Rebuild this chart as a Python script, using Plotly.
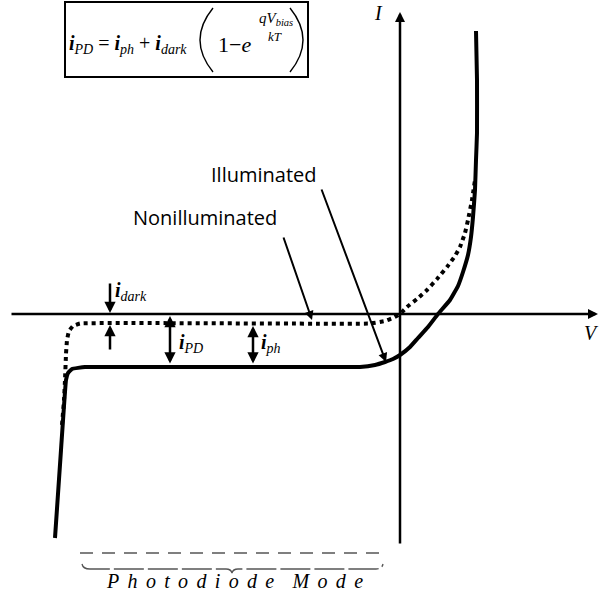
import plotly.graph_objects as go

# Photodiode I-V characteristic, in diagram units (origin at the axis crossing)
# Illuminated diode current (solid curve)
v_illum = [-345, -339, -334, -332, -328, -315, -40, -25, -15, -7, 0, 10, 18, 28, 38,
           50, 58, 63, 68, 71, 73, 75, 76, 77, 77, 76]
i_illum = [-224, -136, -66, -59, -55, -53, -53, -51, -48, -45, -41, -33, -24, -13, 0,
           14, 28, 42, 59, 77, 97, 124, 154, 181, 234, 283]

# Dark (nonilluminated) diode current (dotted curve)
v_dark = [-338, -336, -335, -334, -333, -331, -327, -320, -30, -15, -7, 0, 7, 17, 27,
          37, 47, 55, 60, 65, 68, 72, 75]
i_dark = [-111, -86, -66, -40, -26, -17, -12, -9.5, -9.5, -7, -4, 0, 7, 15, 24,
          35, 47, 58, 67, 81, 94, 114, 134]

# Axis extents
v_axis = [-390, 198]
i_axis = [-231, 302]

W, H = 601, 606
X0, Y0 = 400, 314  # pixel position of the origin


def to_v(px):
    return px - X0


def to_i(py):
    return Y0 - py


fig = go.Figure()

fig.add_trace(go.Scatter(
    x=v_dark, y=i_dark, mode="lines",
    line=dict(color="black", width=4, dash="4px,4px", shape="spline", smoothing=0.3),
    hoverinfo="skip", showlegend=False,
))
fig.add_trace(go.Scatter(
    x=v_illum, y=i_illum, mode="lines",
    line=dict(color="black", width=4, shape="spline", smoothing=0.3),
    hoverinfo="skip", showlegend=False,
))

ann = []


def arrow(x_tip, y_tip, x_tail, y_tail, width=2.5, size=0.9, both=False):
    d = dict(x=x_tip, y=y_tip, ax=x_tail, ay=y_tail, xref="x", yref="y",
             axref="x", ayref="y", text="", showarrow=True,
             arrowhead=2, arrowsize=size, arrowwidth=width, arrowcolor="black",
             standoff=0, startstandoff=0)
    if both:
        d.update(arrowside="end+start", startarrowhead=2, startarrowsize=size)
    ann.append(d)


# Axes with arrowheads
arrow(v_axis[1], 0, v_axis[0], 0, width=2.5, size=0.8)
arrow(0, i_axis[1], 0, i_axis[0], width=2.5, size=0.8)

# Dark-current offset marker
arrow(to_v(110), to_i(313), to_v(110), to_i(282), width=2.5, size=0.9)
arrow(to_v(110), to_i(325), to_v(110), to_i(351), width=2.5, size=0.9)
# i_PD and i_ph spans
arrow(to_v(170), to_i(316), to_v(170), to_i(365), width=2.5, size=0.9, both=True)
arrow(to_v(253), to_i(326), to_v(253), to_i(365), width=2.5, size=0.9, both=True)

# Pointer arrows for the curve labels
arrow(to_v(312), to_i(320), to_v(283), to_i(236), width=2, size=0.9)
arrow(to_v(386), to_i(362), to_v(321), to_i(188), width=2, size=0.9)

serif = "Liberation Serif"
sans = "Open Sans"


def label(px, py, text, size, family=serif, xanchor="center", yanchor="middle"):
    ann.append(dict(x=to_v(px), y=to_i(py), xref="x", yref="y", text=text,
                    showarrow=False, xanchor=xanchor, yanchor=yanchor,
                    font=dict(family=family, size=size, color="black")))


label(378, 13, "<i>I</i>", 20)
label(591, 333, "<i>V</i>", 20)
label(264, 174, "Illuminated", 20, family=sans)
label(205, 217, "Nonilluminated", 20, family=sans)
label(113, 291, "<b><i>i</i></b><sub><i>dark</i></sub>", 20, xanchor="left")
label(177, 343, "<b><i>i</i></b><sub><i>PD</i></sub>", 20, xanchor="left")
label(259, 343, "<b><i>i</i></b><sub><i>ph</i></sub>", 20, xanchor="left")

# Diode equation
label(67, 44, "<b><i>i</i></b><sub><i>PD</i></sub> = <b><i>i</i></b><sub><i>ph</i></sub> + "
      "<b><i>i</i></b><sub><i>dark</i></sub>", 20, xanchor="left")
label(216, 44, "1\u2212<i>e</i>", 22, xanchor="left")
label(257, 19, "<i>qV</i><sub><i>bias</i></sub>", 15, xanchor="left")
label(275, 36, "<i>kT</i>", 13)

# Letter-spaced caption under the reverse-bias region
sep = "\u00a0\u2006"
mode_text = sep.join("Photodiode") + sep + "\u00a0" * 2 + sep.join("Mode")
label(234, 581, f"<i>{mode_text}</i>", 20)


def p(px, py):
    return f"{to_v(px)},{to_i(py)}"


shapes = [
    dict(type="rect", xref="x", yref="y", x0=to_v(65), x1=to_v(308), y0=to_i(2), y1=to_i(77),
         line=dict(color="black", width=2)),
    # large parentheses around the exponential term
    dict(type="path", xref="x", yref="y",
         path=f"M {p(213, 8)} Q {p(187, 40)} {p(213, 72)}",
         line=dict(color="black", width=1.4)),
    dict(type="path", xref="x", yref="y",
         path=f"M {p(290, 8)} Q {p(316, 40)} {p(290, 72)}",
         line=dict(color="black", width=1.4)),
    dict(type="line", xref="x", yref="y", x0=to_v(80), x1=to_v(385), y0=to_i(553), y1=to_i(553),
         line=dict(color="#555555", width=1.3, dash="13px,9px")),
    dict(type="path", xref="x", yref="y",
         path=(f"M {p(82, 564)} Q {p(83, 569)} {p(90, 569)} "
               f"L {p(226, 569)} Q {p(231, 569)} {p(232, 573)} "
               f"Q {p(233, 569)} {p(238, 569)} "
               f"L {p(376, 569)} Q {p(382, 569)} {p(383, 564)}"),
         line=dict(color="#555555", width=1.3, dash="30px,4px")),
]

fig.update_layout(
    width=W, height=H,
    margin=dict(l=0, r=0, t=0, b=0),
    paper_bgcolor="white", plot_bgcolor="white",
    xaxis=dict(range=[-X0, W - X0], visible=False, fixedrange=True),
    yaxis=dict(range=[Y0 - H, Y0], visible=False, fixedrange=True),
    annotations=ann, shapes=shapes, showlegend=False,
)

fig.write_html("out.html")
